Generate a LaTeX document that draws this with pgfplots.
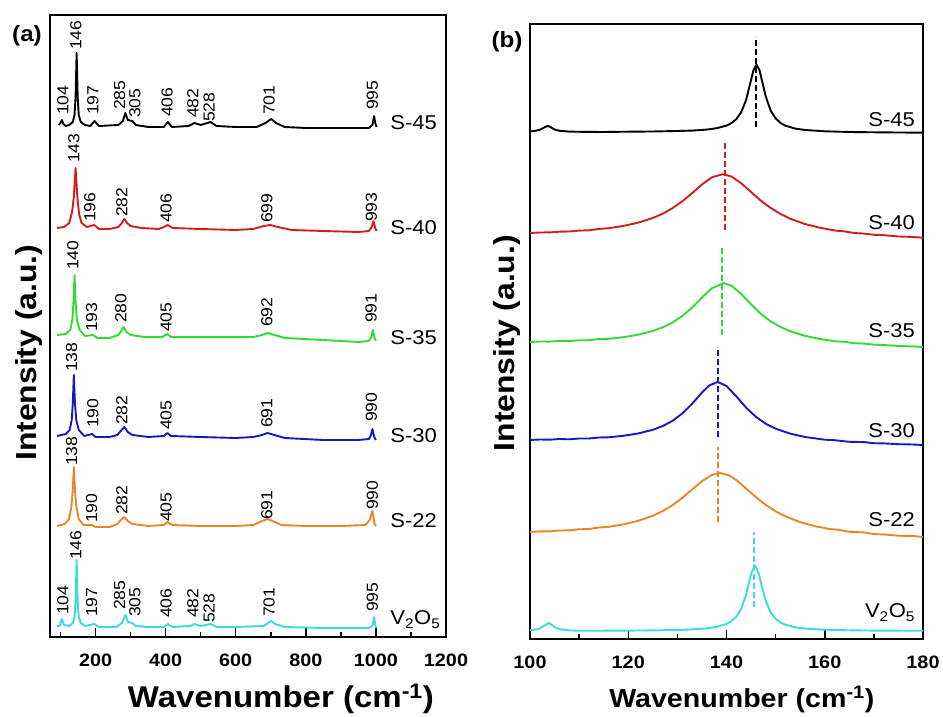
\documentclass[border=0pt]{standalone}
\usepackage{pgfplots}
\pgfplotsset{compat=1.18}
\usepackage{fontspec}
\setmainfont{Liberation Sans}[FakeStretch=1.1]
\definecolor{cblack}{RGB}{0,0,0}
\definecolor{cred}{RGB}{210,30,30}
\definecolor{cgreen}{RGB}{50,220,50}
\definecolor{cblue}{RGB}{25,25,190}
\definecolor{corange}{RGB}{232,135,35}
\definecolor{ccyan}{RGB}{60,220,220}
\newcommand{\pk}[3]{\node[rotate=90,anchor=west,inner sep=0pt,font=\fontsize{16}{16}\selectfont] at (axis cs:#1,#2) {#3};}
\tikzset{sl/.style={font=\fontsize{20}{20}\selectfont, inner sep=0pt}}
\pgfplotsset{
  myaxis/.style={
    scale only axis,
    axis line style={line width=2pt},
    tick align=inside, xtick pos=bottom, ytick=\empty,
    major tick length=9pt, minor tick length=5pt,
    tick style={line width=1.5pt, black},
    xticklabel style={font=\fontsize{18}{18}\selectfont\bfseries, yshift=-13pt},
    /pgf/number format/assume math mode=true,
    /pgf/number format/1000 sep={},
    clip=false,
  },
  tr/.style={line width=1.9pt, line join=round},
  ds/.style={line width=2pt, dash pattern=on 6pt off 3pt},
}
\begin{document}
\begin{tikzpicture}
\useasboundingbox (0pt,0pt) rectangle (943pt,717pt);
% ---------------- panel (a)
\begin{axis}[myaxis, at={(50pt,80pt)}, anchor=south west, width=396pt, height=622pt,
  xmin=70, xmax=1200, ymin=0, ymax=622,
  xtick={200,400,...,1200}, minor xtick={100,300,...,1100},
  xlabel={Wavenumber (cm\textsuperscript{-1})},
  ylabel={Intensity (a.u.)},
  xlabel style={font=\fontsize{30}{30}\selectfont\bfseries, at={(rel axis cs:0.583,-0.114)}, anchor=base},
  ylabel style={font=\fontsize{29}{29}\selectfont\bfseries, at={(rel axis cs:-0.053,0.457)}, anchor=center},
]
% S-45
\addplot[tr, cblack] coordinates {(95,512)(100,514)(104,517)(108,513)(115,511)(125,512)(135,515)(140,522)(143,540)(146,584)(149,540)(152,522)(158,515)(170,512)(185,511)(197,516)(210,511)(265,512)(278,516)(285,524)(292,517)(305,516)(315,512)(350,510)(395,510)(406,515)(418,510)(465,511)(482,514)(500,512)(528,515)(545,511)(600,510)(660,510)(685,514)(701,518)(715,514)(740,510)(800,509)(900,509)(980,509)(990,512)(995,521)(998,514)(1002,510)};
% S-40
\addplot[tr, cred] coordinates {(90,409)(110,410)(125,414)(133,425)(138,440)(143,469)(148,440)(153,423)(160,414)(175,410)(196,412)(210,408)(240,408)(265,410)(275,414)(282,418)(290,414)(300,411)(330,409)(380,408)(395,410)(406,412)(420,409)(500,408)(600,407)(650,408)(680,411)(699,412)(720,410)(760,407)(850,406)(950,405)(980,406)(988,410)(993,416)(998,409)(1002,406)};
% S-35
\addplot[tr, cgreen] coordinates {(90,302)(115,303)(128,307)(134,318)(137,335)(140,362)(143,335)(147,317)(155,307)(170,301)(193,302)(205,299)(240,299)(265,302)(273,306)(280,310)(288,305)(300,302)(340,300)(390,300)(405,303)(415,300)(500,300)(600,300)(650,300)(675,302)(692,304)(710,302)(740,299)(850,297)(950,295)(980,296)(987,300)(991,307)(996,299)(1000,296)};
% S-30
\addplot[tr, cblue] coordinates {(90,201)(115,203)(126,207)(132,217)(135,233)(138,262)(141,235)(145,217)(152,207)(168,201)(190,203)(200,200)(240,200)(262,202)(272,206)(282,210)(292,205)(305,202)(350,200)(395,201)(405,204)(415,201)(500,200)(600,199)(650,200)(675,202)(691,204)(710,202)(740,199)(850,197)(950,197)(980,198)(986,202)(990,208)(995,200)(1000,197)};
% S-22
\addplot[tr, corange] coordinates {(90,111)(112,113)(124,118)(131,130)(135,147)(138,170)(141,148)(145,131)(152,118)(165,112)(190,112)(200,110)(240,110)(262,113)(272,117)(282,120)(292,116)(305,113)(350,111)(395,112)(405,115)(418,112)(500,111)(600,111)(650,112)(675,116)(691,118)(705,116)(730,112)(800,111)(900,111)(970,112)(982,117)(990,126)(996,113)(1000,111)};
% V2O5
\addplot[tr, ccyan] coordinates {(90,11)(97,11)(104,18)(110,12)(125,11)(135,14)(140,20)(143,35)(146,77)(149,36)(152,20)(158,14)(170,11)(197,13)(210,10)(260,10)(275,14)(285,22)(293,15)(305,14)(315,11)(350,10)(395,10)(406,13)(420,10)(470,11)(482,13)(500,11)(528,13)(545,10)(600,10)(680,11)(692,14)(701,16)(712,13)(740,10)(850,9)(980,9)(990,11)(995,20)(998,12)(1002,9)};
% peak labels
\pk{107}{522}{104}\pk{144}{587}{146}\pk{192}{522}{197}\pk{269}{527}{285}\pk{312}{519}{305}
\pk{404}{520}{406}\pk{478}{519}{482}\pk{524}{515}{528}\pk{695}{522}{701}\pk{990}{527}{995}
\pk{138}{474}{143}\pk{184}{415}{196}\pk{275}{420}{282}\pk{401}{414}{406}\pk{689}{414}{699}\pk{987}{415}{993}
\pk{135}{367}{140}\pk{189}{305}{193}\pk{272}{314}{280}\pk{401}{305}{405}\pk{689}{310}{692}\pk{986}{314}{991}
\pk{132}{265}{138}\pk{192}{209}{190}\pk{275}{212}{282}\pk{401}{207}{405}\pk{689}{209}{691}\pk{987}{215}{990}
\pk{132}{171}{138}\pk{189}{114}{190}\pk{275}{122}{282}\pk{401}{115}{405}\pk{689}{117}{691}\pk{990}{127}{990}
\pk{107}{22}{104}\pk{144}{77}{146}\pk{189}{20}{197}\pk{269}{27}{285}\pk{312}{20}{305}
\pk{401}{19}{406}\pk{478}{19}{482}\pk{524}{14}{528}\pk{695}{20}{701}\pk{990}{25}{995}
% series labels
\node[sl, anchor=base west] at (axis cs:1041,507) {S-45};
\node[sl, anchor=base west] at (axis cs:1041,402) {S-40};
\node[sl, anchor=base west] at (axis cs:1041,292) {S-35};
\node[sl, anchor=base west] at (axis cs:1041,194) {S-30};
\node[sl, anchor=base west] at (axis cs:1041,109) {S-22};
\node[sl, anchor=base west] at (axis cs:1041,12) {V\textsubscript{2}O\textsubscript{5}};
\end{axis}
% ---------------- panel (b)
\begin{axis}[myaxis, at={(530pt,78pt)}, anchor=south west, width=393pt, height=615pt,
  xmin=100, xmax=180, ymin=0, ymax=615,
  xtick={100,120,...,180}, minor xtick={110,130,...,170},
  xlabel={Wavenumber (cm\textsuperscript{-1})},
  ylabel={Intensity (a.u.)},
  xlabel style={font=\fontsize{26}{26}\selectfont\bfseries, at={(rel axis cs:0.539,-0.112)}, anchor=base},
  ylabel style={font=\fontsize{29}{29}\selectfont\bfseries, at={(rel axis cs:-0.0585,0.481)}, anchor=center},
]
% S-45
\addplot[tr, cblack] coordinates {(100,507.6)(101,508.1)(102,509.2)(103,511.8)(103.6,513)(104,512.4)(105,509.5)(106,508.2)(108,507.4)(110,507.2)(115,507)(120,507.3)(125,507.5)(130,508)(133,508.4)(136,509.4)(138,510.8)(140,513.4)(141,515.9)(142,519.9)(143,526.8)(144,539.2)(145,559)(145.5,569)(146.1,574.5)(146.7,569)(147,563)(148,542.3)(149,528.3)(150,520.6)(151,516)(152,513.3)(154,510.4)(156,509)(160,507.7)(165,507)(170,506.7)(175,506.5)(180,506.3)};
% S-40
\addplot[tr, cred] coordinates {(100,406.0)(102,406.5)(104,406.6)(106,407.3)(108,407.5)(110,408.4)(112,408.7)(114,410.0)(116,410.8)(119,413.1)(122,416.3)(125,421.0)(127,425.2)(129,430.8)(131,437.7)(133,445.8)(135,454.5)(137,461.6)(139.2,464.8)(141,462.5)(143,455.7)(145,447.0)(147,438.3)(149,431.0)(151,425.0)(153,420.2)(156,414.9)(159,411.3)(162,408.5)(164,407.6)(166,406.0)(168,405.4)(170,404.2)(172,403.8)(175,402.5)(178,402.0)(180,401.3)};
% S-35
\addplot[tr, cgreen] coordinates {(100,297.0)(102,297.5)(104,297.4)(106,298.1)(108,297.9)(110,298.7)(112,298.8)(114,299.9)(116,300.2)(119,301.8)(122,304.3)(125,308.0)(127,311.7)(129,316.4)(131,323.0)(133,331.4)(135,341.4)(137,350.7)(139.4,355.9)(141,353.3)(143,345.0)(145,334.6)(147,325.1)(149,317.6)(151,312.0)(153,307.7)(156,303.1)(159,300.0)(162,297.8)(164,297.2)(166,295.8)(168,295.4)(170,294.3)(172,294.0)(175,293.0)(178,292.6)(180,292.0)};
% S-30
\addplot[tr, cblue] coordinates {(100,199.0)(102,199.5)(104,199.3)(106,200.0)(108,199.7)(110,200.5)(112,200.5)(114,201.5)(116,201.7)(119,203.2)(122,205.5)(125,209.2)(127,212.9)(129,218.1)(131,225.5)(133,235.2)(135,246.4)(136.5,253.6)(138.2,257.0)(140,253.0)(142,242.6)(144,231.3)(146,222.1)(148,215.2)(150,210.3)(153,205.3)(156,202.0)(160,199.3)(162,198.8)(165,197.2)(168,196.9)(170,195.8)(172,195.6)(175,194.8)(178,194.5)(180,194.0)};
% S-22
\addplot[tr, corange] coordinates {(100,107.0)(102,107.6)(104,107.6)(106,108.5)(108,108.6)(110,109.7)(112,110.0)(114,111.5)(116,112.2)(119,114.6)(122,118.1)(125,123.2)(127,127.9)(129,133.8)(131,141.1)(133,149.5)(135,157.8)(137,164.1)(138.7,166.0)(140.5,163.7)(142,158.9)(144,150.5)(146,141.8)(148,134.0)(150,127.7)(152,122.6)(155,116.8)(158,112.8)(161,110.0)(163,109.1)(165,107.2)(168,106.6)(170,104.9)(172,104.6)(175,103.3)(178,103.0)(180,102.0)};
% V2O5
\addplot[tr, ccyan] coordinates {(100,8.7)(101,9.3)(102,10.5)(103,13.6)(103.8,16)(104.5,14)(105,12)(106,9.8)(108,8.6)(110,8.2)(115,8.3)(120,8.4)(125,8.6)(130,9)(133,9.6)(136,10.6)(138,12.1)(140,15)(141,17.8)(142,22.3)(143,30.3)(144,44.5)(145,64.9)(145.8,74)(146.6,64.9)(147,56.5)(148,37.9)(149,26.5)(150,20.2)(151,16.5)(152,14.2)(154,11.7)(156,10.4)(160,9.3)(165,8.7)(170,8.4)(175,8.3)(180,8.2)};
% dashed markers
\addplot[ds, cblack] coordinates {(146.0,512)(146.0,602)};
\addplot[ds, cred] coordinates {(139.7,409)(139.7,499)};
\addplot[ds, cgreen] coordinates {(139.1,304)(139.1,392)};
\addplot[ds, cblue] coordinates {(138.2,202)(138.2,292)};
\addplot[ds, corange] coordinates {(138.2,117)(138.2,192)};
\addplot[ds, ccyan] coordinates {(145.6,32)(145.6,107)};
% series labels
\node[sl, anchor=base east] at (axis cs:178.4,512) {S-45};
\node[sl, anchor=base east] at (axis cs:178.4,409) {S-40};
\node[sl, anchor=base east] at (axis cs:178.4,301) {S-35};
\node[sl, anchor=base east] at (axis cs:178.4,201) {S-30};
\node[sl, anchor=base east] at (axis cs:178.4,112) {S-22};
\node[sl, anchor=base east] at (axis cs:178.4,21) {V\textsubscript{2}O\textsubscript{5}};
\end{axis}
\node[font=\fontsize{22}{22}\selectfont\bfseries] at (27pt,681pt) {(a)};
\node[font=\fontsize{22}{22}\selectfont\bfseries] at (507pt,675pt) {(b)};
\end{tikzpicture}
\end{document}
